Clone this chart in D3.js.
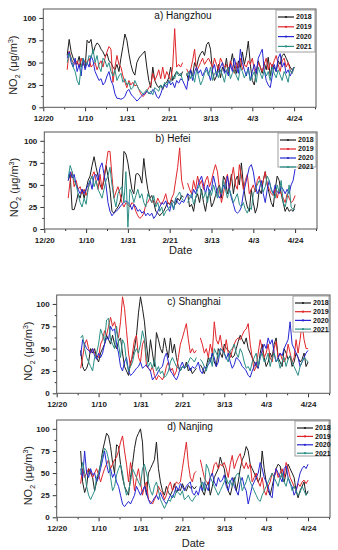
<!DOCTYPE html>
<html lang="en">
<head>
<meta charset="UTF-8">
<title>NO2 daily, four cities</title>
<script src="https://cdn.jsdelivr.net/npm/d3@7"></script>
<style type="text/css">
	body { margin: 0; background: #fff; font-family: Arial, "Liberation Sans", sans-serif; }
	.axis text { font-size: 8px; font-weight: bold; fill: #1a1a1a; }
	.axis path { display: none; }
	.axis line { stroke: #333; stroke-width: 1px; }
	.frame { fill: none; stroke: #555; stroke-width: 1px; }
	.series { fill: none; stroke-width: 1px; stroke-linejoin: round; }
	.title { font-size: 10px; fill: #111; }
	.label { font-size: 11px; fill: #222; }
	.legend text { font-size: 7px; font-weight: bold; fill: #111; }
	.legend rect { fill: #fff; stroke: #888; stroke-width: 0.8px; }
</style>
</head>
<body>
<script type="text/javascript">

// ---- data: daily NO2, Jan 1 .. Apr 24 (x = days after 12/20) ----
var startDay = 12;
var years = ['2018', '2019', '2020', '2021'];
var dateTicks = [0, 21, 42, 63, 84, 105, 126];
var dateLabels = ['12/20', '1/10', '1/31', '2/21', '3/13', '4/3', '4/24'];
var valueTicks = [0, 25, 50, 75, 100];

var hz2018 = [58, 76, 62, 55, 50, 48, 57, 45, 50, 44,
	75, 72, 76, 60, 68, 72, 70, 65, 62, 57,
	60, 52, 50, 45, 42, 48, 40, 55, 68, 82,
	75, 60, 48, 40, 36, 50, 55, 58, 60, 63,
	45, 30, 22, 45, 30, 25, 22, 25, 20, 26,
	28, 33, 45, 30, 36, 40, 38, 35, 40, null,
	38, 30, 42, 35, 50, 45, 55, 60, 63, 58,
	70, 73, 65, 40, 30, 35, 48, 33, 45, 40,
	55, 38, 48, 60, 45, 38, 52, 44, 62, 48,
	58, 74, 48, 30, 25, 40, 52, 45, 38, 50,
	42, 56, 35, 48, 45, 40, 52, 48, 58, 60,
	55, 50, 45, 42, 45];
var hz2019 = [42, 63, 55, 50, 48, 52, 45, 55, 48, 52,
	50, 55, 45, 48, 50, 42, 48, 52, 45, 55,
	62, 68, 65, 28, 45, 58, 48, 45, 35, 28,
	22, 30, 25, 28, 24, 25, 20, 15, 12, 14,
	18, 22, 25, 38, 30, 35, 42, 32, 45, 32,
	40, 35, 30, 45, 88, 45, 48, 45, 50, null,
	43, 38, 42, 52, 65, 40, 45, 50, 55, 48,
	52, 55, 50, 45, 55, 48, 42, 55, 50, 45,
	48, 40, 52, 45, 38, 50, 44, 55, 42, 48,
	45, 52, 48, 55, 42, 38, 50, 45, 40, 48,
	55, 42, 50, 45, 52, 58, 48, 40, 52, 55,
	45, 50, 42, 38, 45];
var hz2020 = [55, 62, 50, 45, 55, 40, 48, 35, 55, 42,
	50, 45, 58, 52, 40, 35, 30, 32, 25, 28,
	35, 40, 30, 25, 15, 10, 10, 9, 10, 12,
	18, 20, 15, 12, 10, 7, 9, 12, 14, 15,
	18, 16, 15, 20, 18, 12, 10, 15, 22, 25,
	22, 30, 25, 28, 22, 30, 27, 32, 30, 25,
	20, 35, 42, 30, 40, 45, 38, 42, 35, 40,
	45, 38, 30, 42, 48, 35, 40, 45, 50, 38,
	42, 35, 48, 40, 55, 45, 38, 65, 50, 42,
	35, 45, 30, 40, 48, 38, 55, 60, 65, 42,
	30, 25, 22, 35, 48, 40, 55, 60, 45, 50,
	38, 42, 35, 40, 45];
var hz2021 = [50, 60, 55, 45, 40, 30, 25, 45, 55, 50,
	48, 58, 55, 65, 50, 58, 45, 40, 55, 52,
	45, 50, 40, 35, 42, 30, 35, 38, 28, 32,
	25, 28, 20, 22, 30, 25, 20, 18, 15, 17,
	20, 15, 18, 14, 22, 20, 18, 25, 22, 28,
	25, 30, 28, 35, 32, 40, 35, 38, 30, null,
	35, 40, 32, 38, 28, 42, 35, 25, 30, 38,
	42, 35, 45, 30, 38, 40, 33, 42, 36, 28,
	40, 45, 32, 38, 42, 35, 30, 45, 40, 33,
	38, 42, 30, 35, 40, 28, 45, 38, 32, 42,
	35, 40, 30, 45, 38, 33, 42, 36, 30, 40,
	35, 28, 42, 38, 45];

var hf2018 = [55, 62, 22, 22, 30, 40, 35, 45, 35, 45,
	55, 60, 72, 82, 70, 60, 50, 45, 55, 72,
	60, 45, 20, 18, 22, 25, 30, 40, 88, 85,
	75, 60, 45, 40, 62, 63, 60, 52, 80, 60,
	45, 35, 38, 30, 20, 18, 15, 18, 20, 25,
	30, 28, 33, 30, 28, 35, 32, 38, 36, null,
	40, 25, 28, 20, 35, 40, 30, 45, 30, 20,
	35, 42, 25, 30, 38, 45, 50, 35, 60, 55,
	40, 48, 62, 40, 55, 60, 50, 75, 50, 35,
	25, 20, 45, 30, 18, 25, 45, 40, 55, 65,
	50, 40, 30, 25, 45, 60, 55, 40, 30, 20,
	25, 20, 22, 20, 28];
var hf2019 = [35, 55, 65, 48, 55, 45, 48, 40, 45, 38,
	45, 55, 60, 65, 55, 45, 62, 45, 60, 72,
	88, 88, 60, 35, 42, 48, 40, 30, 25, 30,
	28, 25, 30, 28, 20, 15, 12, 14, 18, 28,
	30, 35, 30, 32, 28, 35, 30, 28, 33, 40,
	30, 28, 35, 40, 55, 70, 92, 55, 45, null,
	52, 45, 40, 55, 45, 60, 50, 55, 45, 55,
	60, 48, 55, 65, 73, 65, 45, 30, 40, 55,
	62, 45, 58, 70, 50, 45, 73, 60, 45, 55,
	62, 40, 45, 50, 42, 55, 60, 48, 55, 65,
	50, 45, 40, 38, 45, 35, 45, 40, 35, 30,
	40, 35, 30, 32, 38];
var hf2020 = [55, 65, 58, 62, 50, 45, 40, 45, 40, 45,
	50, 55, 45, 60, 62, 55, 70, 75, 62, 50,
	30, 20, 15, 18, 20, 22, 25, 28, 30, 32,
	30, 28, 22, 28, 25, 20, 22, 18, 20, 15,
	18, 15, 18, 12, 15, 20, 25, 30, 28, 32,
	25, 20, 30, 22, 35, 30, 28, 32, 30, 35,
	40, 38, 35, 45, 40, 48, 55, 60, 50, 40,
	50, 40, 45, 60, 50, 40, 35, 40, 50, 45,
	60, 45, 35, 28, 20, 18, 20, 25, 40, 50,
	60, 70, 73, 65, 50, 40, 45, 55, 40, 30,
	45, 55, 45, 40, 50, 42, 40, 48, 45, 40,
	45, 40, 50, 55, 68];
var hf2021 = [58, 72, 65, 55, 50, 40, 30, 25, 35, 28,
	45, 55, 60, 48, 55, 45, 40, 35, 45, 55,
	60, 70, 50, 35, 25, 40, 45, 48, 30, 65,
	2, 45, 40, 30, 38, 45, 35, 40, 30, 25,
	40, 35, 30, 38, 25, 30, 20, 25, 15, 20,
	22, 25, 30, 22, 35, 38, 42, 35, 32, null,
	30, 35, 40, 28, 35, 45, 50, 40, 35, 42,
	30, 45, 38, 50, 42, 35, 48, 40, 55, 45,
	35, 45, 38, 30, 35, 40, 28, 25, 30, 22,
	18, 25, 22, 40, 45, 50, 55, 50, 42, 48,
	60, 55, 45, 40, 35, 50, 42, 55, 30, 25,
	35, 50, 25, 22, 22];

var sh2018 = [48, 30, 25, 28, 35, 50, 45, 50, 40, 35,
	45, 50, 55, 65, 60, 55, 65, 55, 50, 58,
	62, 45, 30, 25, 20, 35, 40, 50, 65, 90,
	108, 95, 80, 55, 35, 60, 45, 30, 68, 60,
	50, 45, 62, 50, 40, 62, 45, 55, 40, 30,
	25, 30, 28, 35, 25, 28, 22, 25, 28, null,
	32, 28, 22, 30, 40, 35, 45, 35, 30, 50,
	45, 40, 55, 50, 48, 45, 40, 42, 50, 58,
	65, 60, 55, 62, 50, 45, 40, 35, 30, 28,
	45, 55, 40, 30, 35, 45, 40, 55, 62, 40,
	35, 30, 50, 45, 38, 42, 30, 35, 45, 40,
	35, 38, 45, 30, 35];
var sh2019 = [28, 40, 55, 60, 50, 45, 50, 45, 42, 40,
	55, 60, 70, 65, 75, 85, 75, 80, 70, 62,
	80, 108, 95, 70, 45, 30, 45, 60, 65, 40,
	35, 55, 60, 30, 28, 25, 30, 20, 15, 20,
	18, 15, 20, 30, 35, 25, 28, 20, 25, 40,
	55, 62, 70, 78, 60, 45, 50, 45, 48, null,
	62, 55, 45, 50, 40, 55, 45, 80, 60, 55,
	65, 50, 45, 60, 45, 40, 48, 55, 60, 62,
	60, 65, 70, 72, 78, 55, 40, 25, 30, 45,
	60, 50, 40, 45, 55, 40, 35, 50, 58, 40,
	45, 38, 35, 40, 55, 45, 35, 40, 60, 45,
	60, 78, 60, 50, 50];
var sh2020 = [42, 60, 55, 50, 48, 45, 50, 42, 38, 45,
	40, 45, 55, 62, 60, 75, 70, 72, 55, 45,
	30, 25, 35, 40, 25, 20, 22, 25, 28, 30,
	35, 28, 30, 32, 28, 25, 15, 18, 20, 25,
	28, 30, 40, 45, 35, 25, 22, 18, 15, 20,
	30, 35, 28, 30, 32, 25, 30, 28, 30, 35,
	25, 22, 30, 28, 32, 35, 45, 40, 30, 35,
	50, 48, 45, 38, 45, 35, 28, 32, 40, 38,
	35, 30, 28, 25, 20, 18, 25, 30, 35, 28,
	40, 48, 55, 50, 62, 55, 60, 45, 35, 40,
	45, 42, 50, 55, 60, 80, 55, 50, 45, 40,
	30, 35, 40, 45, 48];
var sh2021 = [62, 65, 50, 40, 35, 30, 25, 40, 45, 55,
	72, 65, 58, 82, 84, 60, 55, 50, 75, 55,
	40, 60, 55, 35, 25, 30, 35, 45, 50, 45,
	55, 70, 60, 40, 30, 35, 28, 38, 25, 30,
	22, 25, 18, 20, 25, 35, 40, 35, 30, 28,
	25, 30, 28, 30, 35, 40, 38, 35, 40, null,
	38, 35, 30, 25, 35, 40, 30, 50, 45, 40,
	50, 48, 45, 40, 35, 48, 50, 55, 45, 40,
	50, 45, 35, 28, 30, 25, 35, 40, 45, 30,
	40, 45, 35, 38, 45, 30, 40, 45, 35, 38,
	28, 35, 40, 30, 38, 42, 35, 30, 25, 20,
	30, 35, 40, 38, 35];

var nj2018 = [75, 40, 28, 35, 55, 50, 45, 30, 40, 50,
	60, 75, 85, 95, 92, 80, 62, 50, 82, 80,
	60, 45, 35, 30, 25, 45, 60, 78, 90, 95,
	100, 85, 40, 25, 50, 55, 60, 65, 85, 55,
	40, 30, 25, 35, 28, 25, 30, 38, 28, 32,
	30, 38, 32, 30, 36, 33, 35, 32, 35, null,
	45, 30, 25, 35, 40, 25, 35, 45, 50, 55,
	68, 60, 55, 40, 30, 25, 35, 45, 30, 40,
	55, 65, 70, 80, 75, 60, 55, 50, 45, 40,
	45, 75, 55, 40, 30, 25, 35, 45, 55, 60,
	58, 45, 40, 50, 60, 55, 50, 45, 30, 22,
	30, 35, 40, 25, 30];
var nj2019 = [38, 55, 45, 50, 55, 52, 45, 50, 55, 48,
	40, 48, 55, 60, 65, 55, 60, 65, 68, 75,
	85, 92, 75, 60, 40, 62, 50, 30, 45, 55,
	40, 25, 35, 40, 20, 18, 15, 20, 25, 35,
	30, 28, 20, 25, 35, 40, 30, 35, 40, 38,
	40, 55, 70, 85, 60, 45, 40, 50, 52, null,
	65, 55, 45, 40, 38, 45, 50, 60, 62, 55,
	60, 58, 62, 55, 45, 60, 70, 55, 62, 68,
	72, 60, 55, 62, 55, 60, 40, 45, 50, 40,
	35, 45, 30, 25, 35, 40, 50, 45, 55, 45,
	50, 55, 45, 62, 55, 45, 40, 35, 30, 38,
	35, 40, 42, 38, 42];
var nj2020 = [55, 45, 75, 50, 45, 55, 48, 50, 40, 45,
	55, 65, 75, 60, 50, 55, 45, 50, 40, 35,
	25, 15, 12, 15, 18, 15, 20, 25, 35, 30,
	25, 30, 35, 28, 20, 15, 18, 22, 25, 20,
	28, 22, 18, 15, 20, 25, 22, 28, 35, 30,
	38, 35, 30, 35, 38, 40, 28, 25, 30, 25,
	35, 30, 40, 35, 30, 45, 50, 40, 35, 45,
	40, 42, 48, 35, 30, 40, 45, 35, 30, 25,
	40, 45, 35, 30, 15, 25, 35, 40, 45, 50,
	62, 55, 45, 40, 35, 25, 22, 45, 55, 50,
	45, 40, 55, 58, 45, 38, 35, 25, 30, 40,
	50, 55, 58, 55, 60];
var nj2021 = [48, 62, 50, 35, 25, 20, 25, 30, 45, 50,
	60, 70, 78, 75, 65, 45, 30, 35, 48, 55,
	60, 50, 35, 25, 30, 40, 55, 50, 45, 40,
	35, 55, 60, 50, 40, 30, 25, 35, 40, 30,
	20, 15, 10, 15, 20, 18, 25, 22, 30, 28,
	25, 30, 20, 22, 25, 20, 18, 22, 25, null,
	35, 40, 30, 60, 55, 45, 40, 35, 30, 25,
	30, 35, 40, 45, 38, 42, 35, 40, 48, 50,
	45, 30, 35, 40, 48, 40, 35, 30, 25, 20,
	18, 25, 30, 35, 40, 45, 50, 45, 40, 35,
	45, 50, 40, 35, 45, 40, 30, 35, 30, 25,
	28, 35, 30, 25, 28];

var colors = ['#1e1e1e', '#e0262b', '#2626d4', '#2b8f87'];

// ---- layout, one entry per panel ----
var panels = [
	{ title: 'a) Hangzhou', series: [hz2018, hz2019, hz2020, hz2021],
		left: 43.3, right: 316, top: 9, bottom: 107.3, titleX: 183, ylabX: 16.5,
		legW: 40, legH: 42, legGap: 9.8, dateLabel: null },
	{ title: 'b) Hefei', series: [hf2018, hf2019, hf2020, hf2021],
		left: 44.3, right: 317, top: 132, bottom: 229, titleX: 173, ylabX: 17.5,
		legW: 39, legH: 34, legGap: 9, dateLabel: 25 },
	{ title: 'c) Shanghai', series: [sh2018, sh2019, sh2020, sh2021],
		left: 56.7, right: 330, top: 295, bottom: 393.3, titleX: 194, ylabX: 31.5,
		legW: 37, legH: 36, legGap: 8.7, dateLabel: null },
	{ title: 'd) Nanjing', series: [nj2018, nj2019, nj2020, nj2021],
		left: 56.7, right: 330, top: 420, bottom: 517.3, titleX: 190, ylabX: 31.5,
		legW: 35, legH: 35, legGap: 8.4, dateLabel: 29.5 }
];

var minorDays = dateTicks.map(d => d + 10.5);
var minorValues = [12.5, 37.5, 62.5, 87.5];

var svg = d3.select('body').append('svg')
	.attr('width', 338)
	.attr('height', 550);

function drawPanel(p) {
	var x = d3.scaleLinear().domain([0, 137]).range([p.left, p.right]);
	var y = d3.scaleLinear().domain([0, 110]).range([p.bottom, p.top]);
	var g = svg.append('g');

	// ticks (outward), minor first
	g.append('g').attr('class', 'x axis')
		.attr('transform', 'translate(0,' + p.bottom + ')')
		.call(d3.axisBottom(x).tickValues(minorDays).tickSize(2).tickSizeOuter(0).tickFormat(''));
	g.append('g').attr('class', 'x axis')
		.attr('transform', 'translate(0,' + p.bottom + ')')
		.call(d3.axisBottom(x).tickValues(dateTicks).tickSize(4).tickSizeOuter(0).tickPadding(4)
			.tickFormat((d, i) => dateLabels[i]));
	g.append('g').attr('class', 'y axis')
		.attr('transform', 'translate(' + p.left + ',0)')
		.call(d3.axisLeft(y).tickValues(minorValues).tickSize(2).tickSizeOuter(0).tickFormat(''));
	g.append('g').attr('class', 'y axis')
		.attr('transform', 'translate(' + p.left + ',0)')
		.call(d3.axisLeft(y).tickValues(valueTicks).tickSize(4).tickSizeOuter(0).tickPadding(3));

	// lines
	var line = d3.line()
		.defined(d => d != null)
		.x((d, i) => x(startDay + i))
		.y(d => y(d));

	g.selectAll('.series')
		.data(p.series)
		.enter().append('path')
		.attr('class', 'series')
		.attr('d', line)
		.style('stroke', (d, i) => colors[i]);

	g.append('rect').attr('class', 'frame')
		.attr('x', p.left).attr('y', p.top)
		.attr('width', p.right - p.left).attr('height', p.bottom - p.top);

	g.append('text').attr('class', 'title')
		.attr('x', p.titleX).attr('y', p.top + 10)
		.attr('text-anchor', 'middle')
		.text(p.title);

	// legend box in the top right corner
	var lx = p.right - p.legW;
	var legend = g.append('g').attr('class', 'legend');
	legend.append('rect')
		.attr('x', lx).attr('y', p.top + 1)
		.attr('width', p.legW - 1).attr('height', p.legH);
	var row = legend.selectAll('.row')
		.data(years)
		.enter().append('g')
		.attr('class', 'row')
		.attr('transform', (d, i) => 'translate(' + lx + ',' + (p.top + 8 + i * p.legGap) + ')');
	row.append('line')
		.attr('x1', 2).attr('x2', 18).attr('y1', 0).attr('y2', 0)
		.style('stroke', (d, i) => colors[i]).style('stroke-width', 1.2);
	row.append('circle')
		.attr('cx', 10).attr('cy', 0).attr('r', 1.1)
		.style('fill', (d, i) => colors[i]);
	row.append('text')
		.attr('x', 20).attr('y', 0).attr('dy', '0.35em')
		.text(d => d);

	// y label NO2 (ug/m3)
	var cy = (p.top + p.bottom) / 2 + 7;
	var yl = g.append('text').attr('class', 'label')
		.attr('text-anchor', 'middle')
		.attr('transform', 'translate(' + p.ylabX + ',' + cy + ') rotate(-90)');
	yl.append('tspan').text('NO');
	yl.append('tspan').attr('font-size', '7px').attr('dy', 3).text('2');
	yl.append('tspan').attr('dy', -3).text(' (\u03bcg/m');
	yl.append('tspan').attr('font-size', '7px').attr('dy', -4).text('3');
	yl.append('tspan').attr('dy', 4).text(')');

	if (p.dateLabel != null) {
		g.append('text').attr('class', 'label')
			.attr('x', (p.left + p.right) / 2).attr('y', p.bottom + p.dateLabel)
			.attr('text-anchor', 'middle')
			.text('Date');
	}
}

panels.forEach(drawPanel);

</script>
</body>
</html>
